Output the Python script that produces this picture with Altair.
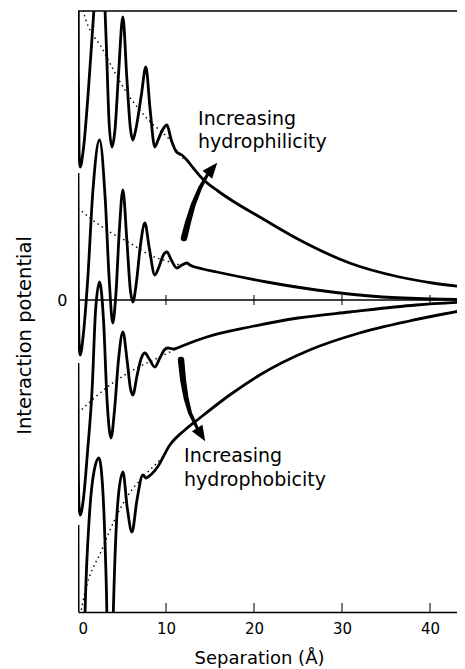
import altair as alt
import pandas as pd

# ---- data: separation (Å) and interaction potential (arb. units)
C1_X = [0, 0.04, 0.12, 0.25, 0.6, 1.1, 1.8, 2.55, 3.2, 3.55, 3.86, 4.2, 4.6, 5.1, 5.55, 5.95, 6.24, 6.6, 7.2, 7.71, 8.2, 8.73, 9.1, 9.6, 10.1, 10.6, 11.2, 11.8, 12.37, 13.1, 14.18, 15.9, 17.58, 20.65, 25.19, 30.86, 36.53, 40.27, 44.0]
C1_Y = [600, 230, 148, 133, 150, 200, 289, 380, 260, 175, 153, 170, 225, 283, 222, 172, 160, 172, 205, 233, 190, 153, 160, 170, 175, 160, 148, 145, 140, 132, 121, 109, 99, 83, 60, 37, 23, 17, 13]

C2_X = [0, 0.04, 0.12, 0.25, 0.6, 1.1, 1.7, 2.45, 3.1, 3.55, 3.95, 4.3, 4.7, 5.1, 5.55, 5.95, 6.24, 6.6, 7.1, 7.6, 8.1, 8.73, 9.2, 9.7, 10.1, 10.6, 11.23, 11.8, 12.37, 12.71, 14.18, 15.77, 21.44, 27.11, 34.6, 40.27, 44.0]
C2_Y = [127, 20, -42, -55, -35, 20, 110, 160, 100, 20, -23, 5, 70, 110, 60, 10, -2, 15, 55, 77, 52, 25, 33, 45, 48, 40, 32, 35, 37, 35, 31, 28, 18, 10, 3, 1, 0.5]

C3_X = [0, 0.04, 0.12, 0.25, 0.6, 1.1, 1.6, 2.0, 2.45, 2.9, 3.3, 3.75, 4.15, 4.6, 5.1, 5.6, 5.95, 6.24, 6.7, 7.2, 7.6, 8.1, 8.73, 9.3, 9.8, 10.2, 10.9, 11.57, 12.7, 14.63, 19.51, 25.0, 30.86, 38.46, 44.0]
C3_Y = [-63, -170, -207, -215, -200, -150, -90, -10, 18, -20, -100, -138, -110, -60, -32, -62, -88, -95, -76, -58, -53, -59, -67, -58, -50, -48, -49, -47, -43, -37, -27, -18, -12, -5, -2]

C4_X = [0, 0.03, 0.35, 0.8, 1.3, 1.85, 2.38, 2.85, 3.2, 3.65, 4.05, 4.5, 5.1, 5.6, 6.13, 6.7, 7.37, 7.7, 7.94, 8.96, 10.44, 12.14, 13.84, 17.24, 20.65, 26.32, 31.99, 37.66, 44.0]
C4_Y = [-225, -420, -520, -312, -215, -170, -158, -195, -280, -460, -300, -205, -172, -208, -232, -200, -175, -178, -177, -168, -145, -130, -118, -95, -75, -50, -33, -21, -10]

# dotted monotonic (hydration) parts continued to short range
D1_X = [0.45, 0.57, 2.84, 5.56, 8.0, 10.44, 11.91, 12.37]
D1_Y = [300, 290, 250, 207, 180, 160, 142, 140]
D2_X = [0, 1.36, 3.63, 5.9, 8.17, 10.44, 11.57]
D2_Y = [92, 82, 68, 57, 45, 38, 35]
D3_X = [0, 3.63, 6.69, 9.3, 11.57]
D3_Y = [-113, -85, -68, -57, -47]
D4_X = [0.3, 0.34, 2.84, 5.56, 7.83, 9.3, 10.0]
D4_Y = [-330, -312, -247, -197, -173, -160, -153]

X_TICKS = [0, 10, 20, 30, 40]
INNER_TICKS = [10, 20, 30, 40]
Y_MIN, Y_MAX = -312, 289
X_MAX = 43.07

# annotations (data coordinates)
TEXT_X = [13.64, 13.64, 12.05, 12.05]
TEXT_Y = [175, 152, -162, -186]
TEXT_S = ["Increasing", "hydrophilicity", "Increasing", "hydrophobicity"]

ARROW1_X = [12.05, 12.51, 13.08, 13.87, 14.72]
ARROW1_Y = [62, 78, 95, 112, 125.4]
ARROW2_X = [11.71, 11.94, 12.28, 12.73, 13.55]
ARROW2_Y = [-60, -80, -98, -113, -128.2]
ARROW_W = [6.5, 6, 5, 4, 3]
HEAD_X = [15.26, 14.0]
HEAD_Y = [131.2, -134.6]
HEAD_ANGLE = [39.5, 148.7]

FONT = "DejaVu Sans"


def frame(name, xs, ys):
    return pd.DataFrame({"x": xs, "y": ys, "curve": name, "i": range(len(xs))})


curves = pd.concat([frame("c1", C1_X, C1_Y), frame("c2", C2_X, C2_Y),
                    frame("c3", C3_X, C3_Y), frame("c4", C4_X, C4_Y)])
dots = pd.concat([frame("d1", D1_X, D1_Y), frame("d2", D2_X, D2_Y),
                  frame("d3", D3_X, D3_Y), frame("d4", D4_X, D4_Y)])
arrows = pd.concat([
    pd.DataFrame({"x": ARROW1_X, "y": ARROW1_Y, "w": ARROW_W, "curve": "a1", "i": range(5)}),
    pd.DataFrame({"x": ARROW2_X, "y": ARROW2_Y, "w": ARROW_W, "curve": "a2", "i": range(5)}),
])
heads = pd.DataFrame({"x": HEAD_X, "y": HEAD_Y, "a": HEAD_ANGLE})
texts = pd.DataFrame({"x": TEXT_X, "y": TEXT_Y, "t": TEXT_S})

xscale = alt.Scale(domain=[0, X_MAX], nice=False, zero=False)
yscale = alt.Scale(domain=[Y_MIN, Y_MAX], nice=False, zero=False)

x_axis = alt.Axis(values=X_TICKS, format="d", title="Separation (Å)", ticks=False, tickSize=0,
                  domain=True, domainColor="black", domainWidth=1.6, grid=False,
                  labelFont=FONT, labelFontSize=15, labelColor="black", labelPadding=9,
                  titleFont=FONT, titleFontSize=18, titleFontWeight="normal", titleColor="black",
                  titleX=181, titleY=51, titleAlign="center", titleBaseline="alphabetic")
y_axis = alt.Axis(values=[0], format="d", title="Interaction potential", ticks=False, tickSize=0,
                  domain=False, grid=False,
                  labelFont=FONT, labelFontSize=16, labelColor="black", labelPadding=11,
                  titleFont=FONT, titleFontSize=19.5, titleFontWeight="normal", titleColor="black",
                  titleX=-54, titleY=324, titleAngle=270, titleAlign="center", titleBaseline="middle")

X = alt.X("x:Q", scale=xscale, axis=x_axis)
Y = alt.Y("y:Q", scale=yscale, axis=y_axis)

solid = alt.Chart(curves).mark_line(color="black", strokeWidth=2.8, interpolate="monotone",
                                    clip=True).encode(x=X, y=Y, detail="curve:N", order="i:Q")
dotted = alt.Chart(dots).mark_line(color="black", strokeWidth=1.4, strokeDash=[1.5, 3.5],
                                   interpolate="monotone", clip=True).encode(
    x=X, y=Y, detail="curve:N", order="i:Q")

zero_line = alt.Chart(pd.DataFrame({"y": [0]})).mark_rule(color="black", strokeWidth=1.7).encode(y=Y)
top_line = alt.Chart(pd.DataFrame({"y": [Y_MAX]})).mark_rule(color="black", strokeWidth=1.7).encode(y=Y)

zero_ticks = alt.Chart(pd.DataFrame({"x": INNER_TICKS, "y": [0] * 4})).mark_tick(
    orient="vertical", size=10, thickness=1.5, color="black").encode(x=X, y=Y)
bottom_ticks = alt.Chart(pd.DataFrame({"x": INNER_TICKS, "y": [Y_MIN] * 4})).mark_tick(
    orient="vertical", size=18, thickness=1.5, color="black", clip=True).encode(x=X, y=Y)

arrow_body = alt.Chart(arrows).mark_trail(color="black").encode(
    x=X, y=Y, detail="curve:N", order="i:Q", size=alt.Size("w:Q", scale=None, legend=None))
arrow_head = alt.Chart(heads).mark_point(shape="M0,-1L0.8,1L-0.8,1Z", filled=True, color="black",
                                         opacity=1, size=240, strokeWidth=0).encode(
    x=X, y=Y, angle=alt.Angle("a:Q", scale=None))

labels = alt.Chart(texts).mark_text(align="left", baseline="alphabetic", font=FONT, fontSize=19,
                                    color="black").encode(x=X, y=Y, text="t:N")

chart = alt.layer(top_line, zero_line, zero_ticks, bottom_ticks, dotted, solid,
                  arrow_body, arrow_head, labels).properties(
    width=379, height=601,
    autosize=alt.AutoSizeParams(type="none"),
    padding={"left": 70, "top": 3, "right": 0, "bottom": 57},
    background="white",
).configure_view(stroke=None)

chart.save("out.html", embed_options={"renderer": "svg", "actions": False})
